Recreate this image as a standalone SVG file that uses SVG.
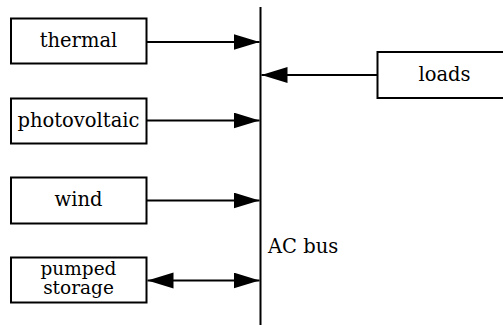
<svg xmlns="http://www.w3.org/2000/svg" width="503" height="325" viewBox="0 0 503 325">
<style>
  .box { fill: #ffffff; stroke: #000000; stroke-width: 2; }
  .lbl { font-family: 'DejaVu Serif', serif; font-size: 19.5px; fill: #000000; text-anchor: middle; }
  .small { font-size: 18.5px; }
  .conn { stroke: #000000; stroke-width: 2; fill: none; }
</style>
<defs>
  <marker id="arr" markerUnits="userSpaceOnUse" markerWidth="27" markerHeight="17" refX="26" refY="8" orient="auto-start-reverse" viewBox="0 0 27 17">
    <path d="M0,0 L26,8 L0,16 Z" fill="#000000"/>
  </marker>
</defs>
<rect width="503" height="325" fill="#ffffff"/>

<g id="thermal">
  <rect class="box" x="11" y="18.5" width="135.5" height="45"/>
  <text class="lbl" x="78.5" y="47">thermal</text>
</g>
<g id="photovoltaic">
  <rect class="box" x="11" y="98.5" width="135.5" height="45"/>
  <text class="lbl" x="78.5" y="127">photovoltaic</text>
</g>
<g id="wind">
  <rect class="box" x="11" y="177.5" width="135.5" height="46"/>
  <text class="lbl" x="78.5" y="206">wind</text>
</g>
<g id="pumped-storage">
  <rect class="box" x="11" y="257.5" width="135.5" height="45"/>
  <text class="lbl small" x="78.5" y="274.5">pumped</text>
  <text class="lbl small" x="78.5" y="294">storage</text>
</g>
<g id="loads">
  <rect class="box" x="377.5" y="52" width="135.5" height="46"/>
  <text class="lbl" x="444.5" y="81">loads</text>
</g>
<g id="ac-bus">
  <line class="conn" x1="260.5" y1="7" x2="260.5" y2="325"/>
  <text class="lbl" x="268" y="253" style="text-anchor:start">AC bus</text>
</g>

<g id="connectors">
  <line class="conn" x1="147" y1="42" x2="259.5" y2="42" marker-end="url(#arr)"/>
  <line class="conn" x1="147" y1="120.5" x2="259.5" y2="120.5" marker-end="url(#arr)"/>
  <line class="conn" x1="147" y1="200.5" x2="259.5" y2="200.5" marker-end="url(#arr)"/>
  <line class="conn" x1="147.5" y1="280.5" x2="259.5" y2="280.5" marker-start="url(#arr)" marker-end="url(#arr)"/>
  <line class="conn" x1="377" y1="75" x2="261.5" y2="75" marker-end="url(#arr)"/>
</g>
</svg>
